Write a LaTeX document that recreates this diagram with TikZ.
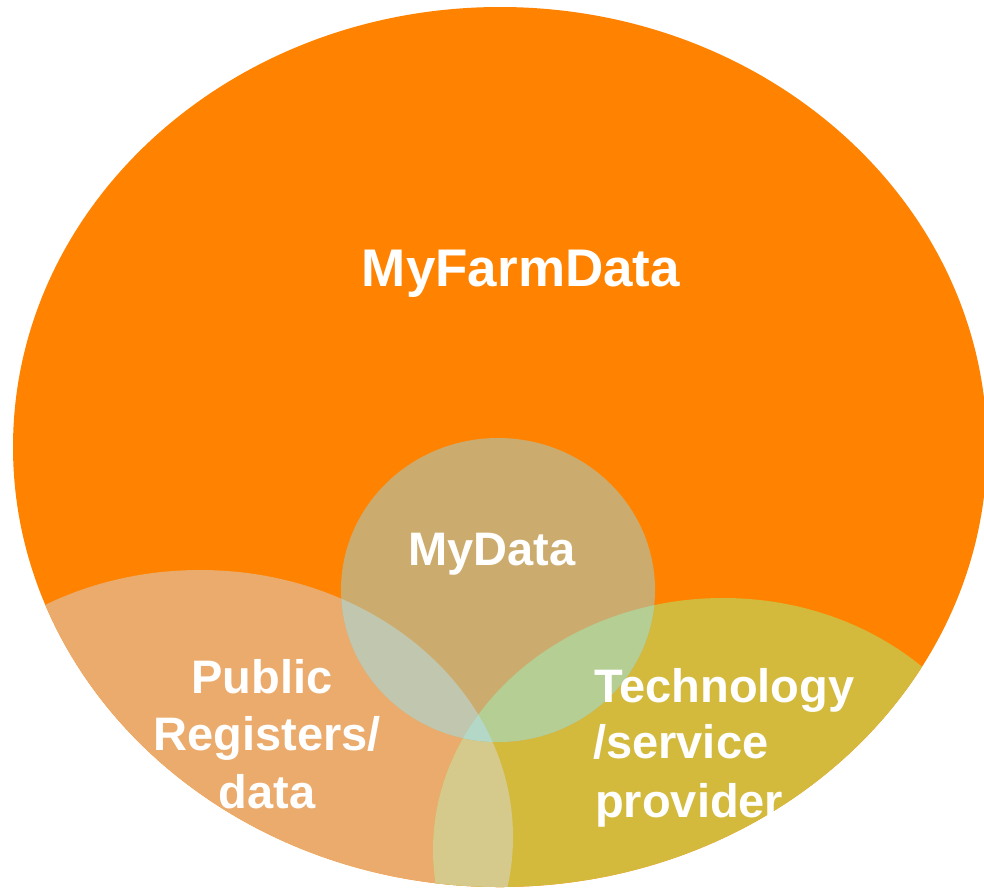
\documentclass[tikz,border=0pt]{standalone}
\usepackage{fontspec}
\setmainfont{Liberation Sans}
\definecolor{orangeMain}{HTML}{FF8300}
\definecolor{lobeLc}{HTML}{EBAB6C}
\definecolor{lobeRc}{HTML}{D3BA3D}
\definecolor{lobeLRc}{HTML}{D5C98C}
\definecolor{mydc}{HTML}{CCAC6E}
\definecolor{mydLc}{HTML}{C1C6AE}
\definecolor{mydRc}{HTML}{B4CE94}
\definecolor{mydLRc}{HTML}{B4D8C8}
\tikzset{
  lbl/.style={text=white, inner sep=0pt, font=\bfseries\fontsize{47}{56}\selectfont},
  biglbl/.style={lbl, font=\bfseries\fontsize{53}{62}\selectfont}
}
\def\bigE{(500,447) ellipse [x radius=487, y radius=440]}
\def\lobeL{(200,837) ellipse [x radius=313, y radius=267]}
\def\lobeR{(723,850) ellipse [x radius=290, y radius=252]}
\def\myd{(498,590) ellipse [x radius=157, y radius=152]}
\begin{document}
\begin{tikzpicture}[x=1pt,y=-1pt]
\fill[white] (0,0) rectangle (984,887);
\useasboundingbox (0,0) rectangle (984,887);
\fill[orangeMain] \bigE;
\begin{scope}
  \clip \bigE;
  \fill[lobeLc] \lobeL;
  \fill[lobeRc] \lobeR;
  \begin{scope}
    \clip \lobeL;
    \fill[lobeLRc] \lobeR;
  \end{scope}
  \fill[mydc] \myd;
  \begin{scope}
    \clip \myd;
    \fill[mydLc] \lobeL;
    \fill[mydRc] \lobeR;
    \clip \lobeL;
    \fill[mydLRc] \lobeR;
  \end{scope}
  \node[lbl, anchor=base west] (tech1) at (594,702) {Technology};
  \node[lbl, anchor=base west] (tech2) at (593,758) {/service};
  \node[lbl, anchor=base west] (tech3) at (595,817) {provider};
\end{scope}
\node[biglbl, anchor=base] (farm) at (521,286) {MyFarmData};
\node[lbl, anchor=base] (mydata) at (492,565) {MyData};
\node[lbl, anchor=base] (pub1) at (262,693) {Public};
\node[lbl, anchor=base] (pub2) at (267,750) {Registers/};
\node[lbl, anchor=base] (pub3) at (267,808) {data};
\end{tikzpicture}
\end{document}
